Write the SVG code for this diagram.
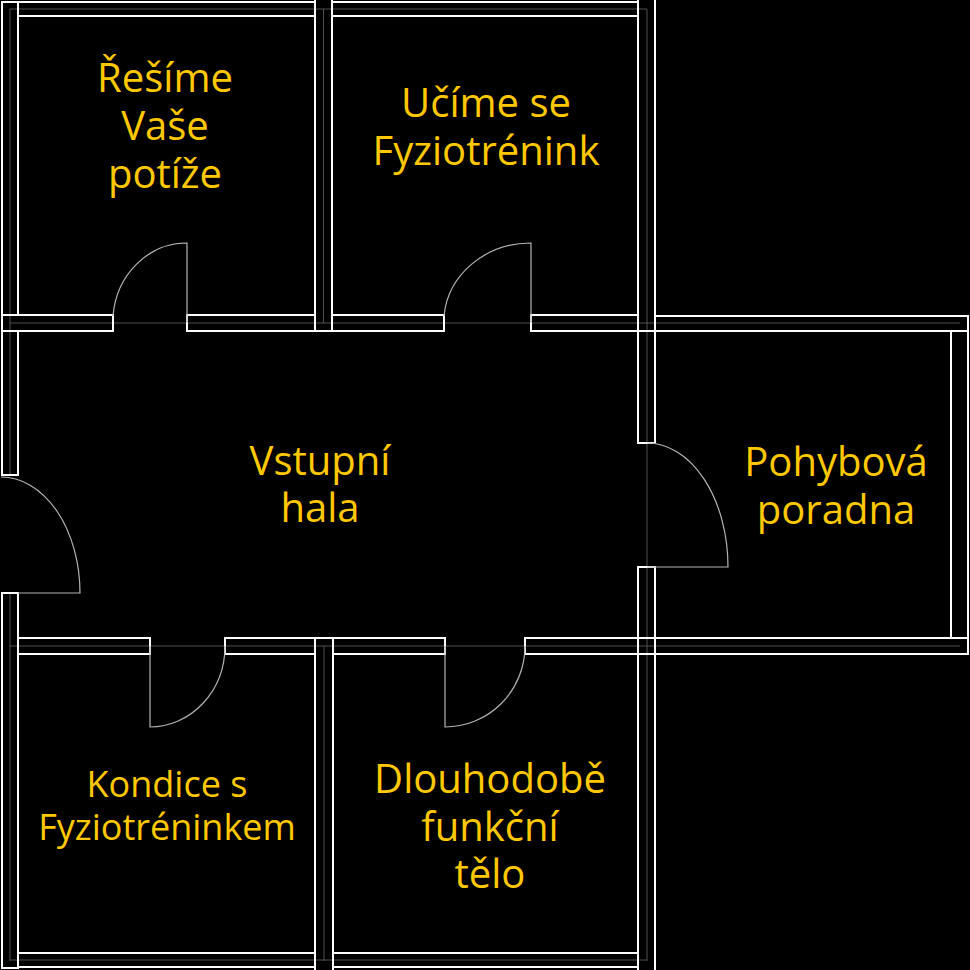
<svg xmlns="http://www.w3.org/2000/svg" width="970" height="970" viewBox="0 0 970 970">
<style>
.wall{fill:none;stroke:#ffffff;stroke-width:2}
.cl{fill:none;stroke:#505050;stroke-width:1}
.door{fill:none;stroke:#b4b4b4;stroke-width:1.2}
.lbl{font-family:"Open Sans","Noto Sans","DejaVu Sans",sans-serif;font-size:40px;fill:#ffc800;text-anchor:middle}
.sm{font-size:36px}
</style>
<rect width="970" height="970" fill="#000"/>
<g id="centerlines">
<line class="cl" x1="10" y1="9" x2="647" y2="9"/>
<line class="cl" x1="10" y1="9" x2="10" y2="475"/>
<line class="cl" x1="10" y1="593" x2="10" y2="961"/>
<line class="cl" x1="10" y1="323" x2="960" y2="323"/>
<line class="cl" x1="323.5" y1="9" x2="323.5" y2="323"/>
<line class="cl" x1="324" y1="646" x2="324" y2="961"/>
<line class="cl" x1="647" y1="9" x2="647" y2="961"/>
<line class="cl" x1="10" y1="646" x2="960" y2="646"/>
<line class="cl" x1="10" y1="960" x2="647" y2="960"/>
</g>
<g id="walls">
<rect class="wall" x="2" y="2" width="16" height="313"/>
<rect class="wall" x="2" y="331" width="16" height="144"/>
<rect class="wall" x="2" y="593" width="16" height="375"/>
<rect class="wall" x="18" y="2" width="297" height="14"/>
<rect class="wall" x="332" y="2" width="306" height="14"/>
<rect class="wall" x="315" y="-2" width="17" height="333"/>
<rect class="wall" x="638" y="-2" width="17" height="333"/>
<rect class="wall" x="638" y="331" width="17" height="112"/>
<rect class="wall" x="638" y="567" width="17" height="405"/>
<rect class="wall" x="2" y="315" width="111" height="16"/>
<rect class="wall" x="187" y="315" width="128" height="16"/>
<rect class="wall" x="332" y="315" width="112" height="16"/>
<rect class="wall" x="531" y="315" width="107" height="16"/>
<rect class="wall" x="655" y="316" width="313" height="15"/>
<rect class="wall" x="951" y="331" width="17" height="307"/>
<rect class="wall" x="18" y="638" width="132" height="16"/>
<rect class="wall" x="225" y="638" width="90" height="16"/>
<rect class="wall" x="333" y="638" width="112" height="16"/>
<rect class="wall" x="525" y="638" width="443" height="16"/>
<rect class="wall" x="315" y="638" width="18" height="334"/>
<rect class="wall" x="18" y="953" width="297" height="14"/>
<rect class="wall" x="333" y="953" width="305" height="14"/>
</g>
<g id="doors">
<path class="door" d="M113,316 A74,80 0 0 1 187,243 L187,323"/>
<path class="door" d="M444,316 A87,80 0 0 1 531,243 L531,323"/>
<path class="door" d="M150,646 L150,727 A75,81 0 0 0 225,646"/>
<path class="door" d="M445,646 L445,727 A80,81 0 0 0 525,646"/>
<path class="door" d="M647,443 A81,124 0 0 1 728,567 L647,567"/>
<path class="door" d="M1,477 A79,116 0 0 1 80,593 L18,593"/>
</g>
<g id="room-resime">
<text class="lbl" x="165" y="92">Řešíme</text>
<text class="lbl" x="165" y="140">Vaše</text>
<text class="lbl" x="165" y="188">potíže</text>
</g>
<g id="room-ucime">
<text class="lbl" x="486" y="117">Učíme se</text>
<text class="lbl" x="486" y="165">Fyziotrénink</text>
</g>
<g id="room-hala">
<text class="lbl" x="320" y="475">Vstupní</text>
<text class="lbl" x="320" y="522">hala</text>
</g>
<g id="room-pohybova">
<text class="lbl" x="836" y="476">Pohybová</text>
<text class="lbl" x="836" y="524">poradna</text>
</g>
<g id="room-kondice">
<text class="lbl sm" x="167" y="797">Kondice s</text>
<text class="lbl sm" x="167" y="840">Fyziotréninkem</text>
</g>
<g id="room-dlouhodobe">
<text class="lbl" x="490" y="793">Dlouhodobě</text>
<text class="lbl" x="490" y="841">funkční</text>
<text class="lbl" x="490" y="888">tělo</text>
</g>
</svg>
